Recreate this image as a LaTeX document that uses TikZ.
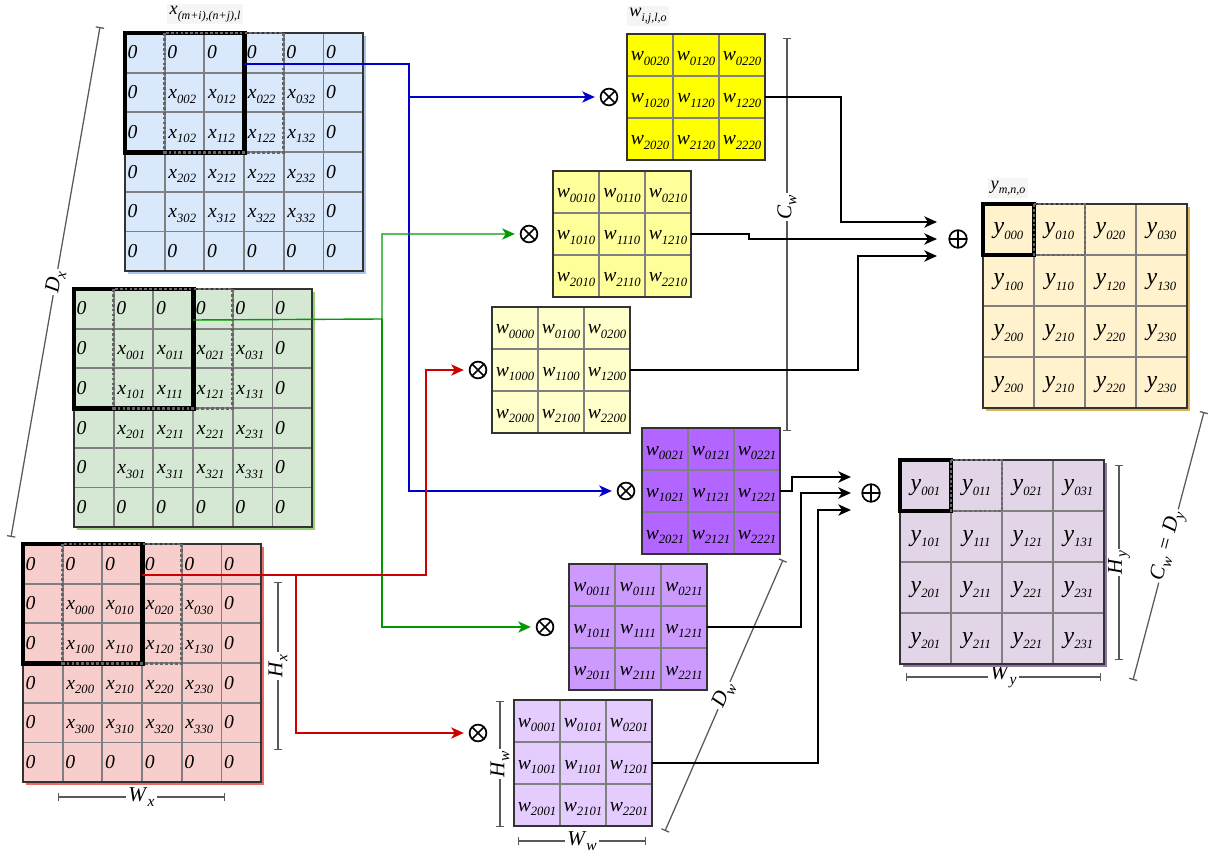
\documentclass[tikz,border=0pt]{standalone}
\usepackage{fontspec}
\setmainfont{Liberation Serif}
\usetikzlibrary{arrows.meta}

\definecolor{inblue}{HTML}{DAE8FC}
\definecolor{inblueline}{HTML}{A9C4EB}
\definecolor{ingreen}{HTML}{D5E8D4}
\definecolor{ingreenline}{HTML}{97D077}
\definecolor{inred}{HTML}{F8CECC}
\definecolor{inredline}{HTML}{EA6B66}
\definecolor{kyel2}{HTML}{FFFF00}
\definecolor{kyel1}{HTML}{FFFF99}
\definecolor{kyel0}{HTML}{FFFFCC}
\definecolor{kpur2}{HTML}{B266FF}
\definecolor{kpur1}{HTML}{CC99FF}
\definecolor{kpur0}{HTML}{E5CCFF}
\definecolor{outorange}{HTML}{FFF2CC}
\definecolor{outorangeline}{HTML}{D6B656}
\definecolor{outviolet}{HTML}{E1D5E7}
\definecolor{outvioletline}{HTML}{9673A6}
\definecolor{wireblue}{HTML}{0000CC}
\definecolor{wiregreen}{HTML}{009900}
\definecolor{wirered}{HTML}{CC0000}

% letter with a lowered italic index
\newcommand{\vsub}[3][9]{\textit{#2}\raisebox{-0.5ex}{\fontsize{#1}{#1}\selectfont\textit{#3}}}

\tikzset{
  >=Stealth,
  cellline/.style={draw=gray, line width=1.3pt},
  gridframe/.style={draw=black!80, line width=1.6pt},
  window/.style={draw=black, line width=3.5pt},
  slide/.style={draw=black!60, line width=2pt, dash pattern=on 2pt off 1.5pt},
  xval/.style={anchor=base west, inner sep=1pt, font=\fontsize{14}{14}\selectfont},
  wval/.style={anchor=base, inner sep=0pt, font=\fontsize{14}{14}\selectfont},
  yval/.style={anchor=base, inner sep=0pt, font=\fontsize{17}{17}\selectfont},
  mulop/.style={circle, draw, line width=1.2pt, minimum size=0.42cm, inner sep=0pt,
    path picture={\draw[line width=1.2pt]
      (path picture bounding box.north west) -- (path picture bounding box.south east)
      (path picture bounding box.north east) -- (path picture bounding box.south west);}},
  addop/.style={circle, draw, line width=1.2pt, minimum size=0.44cm, inner sep=0pt,
    path picture={\draw[line width=1.2pt]
      (path picture bounding box.north) -- (path picture bounding box.south)
      (path picture bounding box.east) -- (path picture bounding box.west);}},
  wire/.style={line width=1pt, -{Stealth[length=9pt, width=8pt, inset=2.5pt]}, shorten >=3.5pt},
  sumwire/.style={line width=1.3pt, -{Stealth[length=9pt, width=8pt, inset=2.5pt]}},
  dimline/.style={draw=black!65, line width=0.9pt, {Bar[width=6pt]}-{Bar[width=6pt]}},
  dimlabel/.style={fill=white, inner sep=1.5pt, sloped, font=\fontsize{15}{15}\selectfont},
  toplabel/.style={fill=black!4, inner sep=2pt, font=\fontsize{13}{13}\selectfont}
}

% 6x6 padded input channel: name, fill, shadow, channel
\newcommand{\xgrid}[4]{%
\begin{scope}[shift={(#1)}]
  \draw[#3, line width=1.5pt] (3,240) -- (240,240) -- (240,3);
  \fill[#2] (0,0) rectangle (238.2,238.2);
  \foreach \k in {1,...,5} {
    \draw[cellline] (\k*39.7,0) -- (\k*39.7,238.2);
    \draw[cellline] (0,\k*39.7) -- (238.2,\k*39.7);
  }
  \draw[gridframe] (0,0) rectangle (238.2,238.2);
  \foreach \rw in {0,...,5} \foreach \cl in {0,...,5} {
    \pgfmathtruncatemacro\pad{(\rw==0)||(\rw==5)||(\cl==0)||(\cl==5)}
    \pgfmathtruncatemacro\ri{\rw-1}
    \pgfmathtruncatemacro\ci{\cl-1}
    \ifnum\pad=1
      \node[xval] (#1-\rw-\cl) at (\cl*39.7+1,\rw*39.7+26) {\textit{0}};
    \else
      \node[xval] (#1-\rw-\cl) at (\cl*39.7+2,\rw*39.7+26) {\vsub{x}{\ri\ci#4}};
    \fi
  }
  \draw[window] (0,0) rectangle (119.1,119.1);
  \draw[slide] (39.7,0) rectangle (158.8,119.1);
  \coordinate (#1-out) at (119.1,31);
\end{scope}}

% 3x3 kernel slice: name, fill, l, o
\newcommand{\wgrid}[4]{%
\begin{scope}[shift={(#1)}]
  \fill[#2] (0,0) rectangle (138,126);
  \foreach \k in {1,2} {
    \draw[cellline] (\k*46,0) -- (\k*46,126);
    \draw[cellline] (0,\k*42) -- (138,\k*42);
  }
  \draw[gridframe] (0,0) rectangle (138,126);
  \foreach \rw in {0,1,2} \foreach \cl in {0,1,2}
    \node[wval] (#1-\rw-\cl) at (\cl*46+23,\rw*42+27) {\vsub{w}{\rw\cl#3#4}};
  \coordinate (#1-out) at (138,63);
\end{scope}}

% 4x4 output map: name, fill, shadow, o
\newcommand{\ygrid}[4]{%
\begin{scope}[shift={(#1)}]
  \draw[#3, line width=1.5pt] (3,206) -- (206,206) -- (206,3);
  \fill[#2] (0,0) rectangle (204,204);
  \foreach \k in {1,2,3} {
    \draw[cellline] (\k*51,0) -- (\k*51,204);
    \draw[cellline] (0,\k*51) -- (204,\k*51);
  }
  \draw[gridframe] (0,0) rectangle (204,204);
  \foreach \rw in {0,...,3} \foreach \cl in {0,...,3} {
    \pgfmathtruncatemacro\ri{min(\rw,2)}
    \node[yval] (#1-\rw-\cl) at (\cl*51+25.5,\rw*51+30) {\vsub{y}{\ri\cl#4}};
  }
  \draw[window] (0,0) rectangle (51,51);
  \draw[slide] (51,0) rectangle (102,51);
\end{scope}}

\begin{document}
\begin{tikzpicture}[x=0.025cm, y=-0.025cm]
	\useasboundingbox (0,0) rectangle (1208,852);

	% corners of the maps
	\coordinate (xb) at (125,33);
	\coordinate (xg) at (74,289);
	\coordinate (xr) at (23,544);
	\coordinate (wy2) at (627,34);
	\coordinate (wy1) at (553,171);
	\coordinate (wy0) at (492,307);
	\coordinate (wp2) at (642,428);
	\coordinate (wp1) at (569,564);
	\coordinate (wp0) at (514,700);
	\coordinate (ya) at (983,204);
	\coordinate (yb) at (900,460);

	% dimension lines
	\draw[dimline] (11,537) -- node[dimlabel] {\vsub[11]{D}{x}} (100,27);
	\draw[dimline] (278,750) -- node[dimlabel] {\vsub[11]{H}{x}} (278,582);
	\draw[dimline] (58,797) -- node[dimlabel] {\vsub[11]{W}{x}} (225,797);
	\draw[dimline] (787,431) -- node[dimlabel, pos=0.57] {\vsub[11]{C}{w}} (787,38);
	\draw[dimline] (665,831) -- node[dimlabel] {\vsub[11]{D}{w}} (783,560);
	\draw[dimline] (500,827) -- node[dimlabel] {\vsub[11]{H}{w}} (500,701);
	\draw[dimline] (518,841) -- node[dimlabel] {\vsub[11]{W}{w}} (646,841);
	\draw[dimline] (1133,680) -- node[dimlabel] {\vsub[11]{C}{w} \textit{=} \vsub[11]{D}{y}} (1204,412);
	\draw[dimline] (1119,660) -- node[dimlabel] {\vsub[11]{H}{y}} (1119,465);
	\draw[dimline] (906,677) -- node[dimlabel] {\vsub[11]{W}{y}} (1101,677);

	% input channels
	\xgrid{xb}{inblue}{inblueline}{2}
	\xgrid{xg}{ingreen}{ingreenline}{1}
	\xgrid{xr}{inred}{inredline}{0}

	% kernel slices
	\wgrid{wy2}{kyel2}{2}{0}
	\wgrid{wy1}{kyel1}{1}{0}
	\wgrid{wy0}{kyel0}{0}{0}
	\wgrid{wp2}{kpur2}{2}{1}
	\wgrid{wp1}{kpur1}{1}{1}
	\wgrid{wp0}{kpur0}{0}{1}

	% output maps
	\ygrid{ya}{outorange}{outorangeline}{0}
	\ygrid{yb}{outviolet}{outvioletline}{1}

	% headings
	\node[toplabel] (xhead) at (205,14) {\vsub[8.5]{x}{(m+i),(n+j),l}};
	\node[toplabel] (whead) at (648,16) {\vsub[8.5]{w}{i,j,l,o}};
	\node[toplabel] (yhead) at (1008,188) {\vsub[8.5]{y}{m,n,o}};

	% products and sums
	\node[mulop] (mulY2) at (609,97) {};
	\node[mulop] (mulY1) at (529,234) {};
	\node[mulop] (mulY0) at (478,370) {};
	\node[mulop] (mulP2) at (626,491) {};
	\node[mulop] (mulP1) at (545,627) {};
	\node[mulop] (mulP0) at (478,733) {};
	\node[addop] (sumA) at (958,239) {};
	\node[addop] (sumB) at (871,493) {};

	% coloured feeds
	\coordinate (busb) at (409,64);
	\coordinate (busg) at (382,319);
	\coordinate (busr) at (426,575);
	\coordinate (tapr) at (296,575);
	\draw[wire, wireblue] (xb-out) -- (busb) |- (mulY2);
	\draw[wire, wireblue] (busb) |- (mulP2);
	\draw[wire, wiregreen] (xg-out) -- (busg) |- (mulY1);
	\draw[wire, wiregreen] (busg) |- (mulP1);
	\draw[wire, wirered] (xr-out) -- (busr) |- (mulY0);
	\draw[wire, wirered] (tapr) |- (mulP0);

	% into the sums
	\coordinate (inA1) at (937,222);
	\coordinate (inA2) at (937,239);
	\coordinate (inA3) at (937,256);
	\coordinate (inB1) at (851,477);
	\coordinate (inB2) at (851,493);
	\coordinate (inB3) at (851,510);
	\draw[sumwire] (wy2-out) -- ++(76,0) |- (inA1);
	\draw[sumwire] (wy1-out) -- ++(58,0) -- ++(0,5) -- (inA2);
	\draw[sumwire] (wy0-out) -- ++(228,0) |- (inA3);
	\draw[sumwire] (wp2-out) -- ++(12,0) |- (inB1);
	\draw[sumwire] (wp1-out) -- ++(94,0) |- (inB2);
	\draw[sumwire] (wp0-out) -- ++(166,0) |- (inB3);
\end{tikzpicture}
\end{document}
